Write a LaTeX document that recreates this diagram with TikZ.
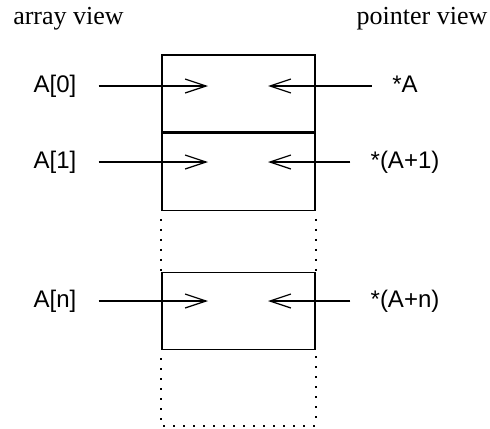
\documentclass[tikz,border=0pt]{standalone}
\usepackage{fontspec}
\setmainfont{Liberation Serif}
\setsansfont{Liberation Sans}
\usetikzlibrary{arrows.meta, positioning}

\begin{document}
\begin{tikzpicture}[x=0.5pt, y=-0.5pt,
  cell/.style={draw, rectangle, line width=0.6pt, minimum width=76.5pt, minimum height=38.5pt, inner sep=0pt},
  idx/.style={font=\sffamily\fontsize{12}{14}\selectfont, inner sep=0pt, text height=8.8pt, text depth=2.5pt},
  view/.style={font=\fontsize{13}{15}\selectfont, anchor=base, inner sep=0pt},
  ptr/.style={-{Straight Barb[length=10.5pt, width=7pt]}, line width=0.6pt},
  gap/.style={line width=1pt, dash pattern=on 1pt off 4pt, dash phase=1pt}]

  \useasboundingbox (0,0) rectangle (490,428);

  \node[view] (arrayview) at (68.5,25) {array view};
  \node[view] (ptrview) at (422,25) {pointer view};

  \node[cell] (cell0) at (238.5,93.5) {};
  \node[cell, below=0pt of cell0] (cell1) {};
  \node[cell, below=30.5pt of cell1] (celln) {};
  \coordinate[below=38pt of celln.south west] (endl);
  \coordinate[below=38pt of celln.south east] (endr);

  \draw[gap] (cell1.south west) -- (celln.north west);
  \draw[gap] (cell1.south east) -- (celln.north east);
  \draw[gap] (celln.south west) -- (endl) -- (endr) -- (celln.south east);

  \coordinate (in0) at (208,86);
  \coordinate (out0) at (268,86);
  \coordinate (in1) at (208,162);
  \coordinate (out1) at (268,162);
  \coordinate (inn) at (208,301);
  \coordinate (outn) at (268,301);

  \node[idx] (a0) at (55,86) {A[0]};
  \node[idx] (p0) at (405,86) {*A};
  \node[idx] (a1) at (55,162) {A[1]};
  \node[idx] (p1) at (405,162) {*(A+1)};
  \node[idx] (an) at (55,301) {A[n]};
  \node[idx] (pn) at (405,301) {*(A+n)};

  \draw[ptr, shorten <=11pt] (a0) -- (in0);
  \draw[ptr, shorten <=10pt] (p0) -- (out0);
  \draw[ptr, shorten <=11pt] (a1) -- (in1);
  \draw[ptr, shorten <=10pt] (p1) -- (out1);
  \draw[ptr, shorten <=11pt] (an) -- (inn);
  \draw[ptr, shorten <=10pt] (pn) -- (outn);
\end{tikzpicture}
\end{document}
